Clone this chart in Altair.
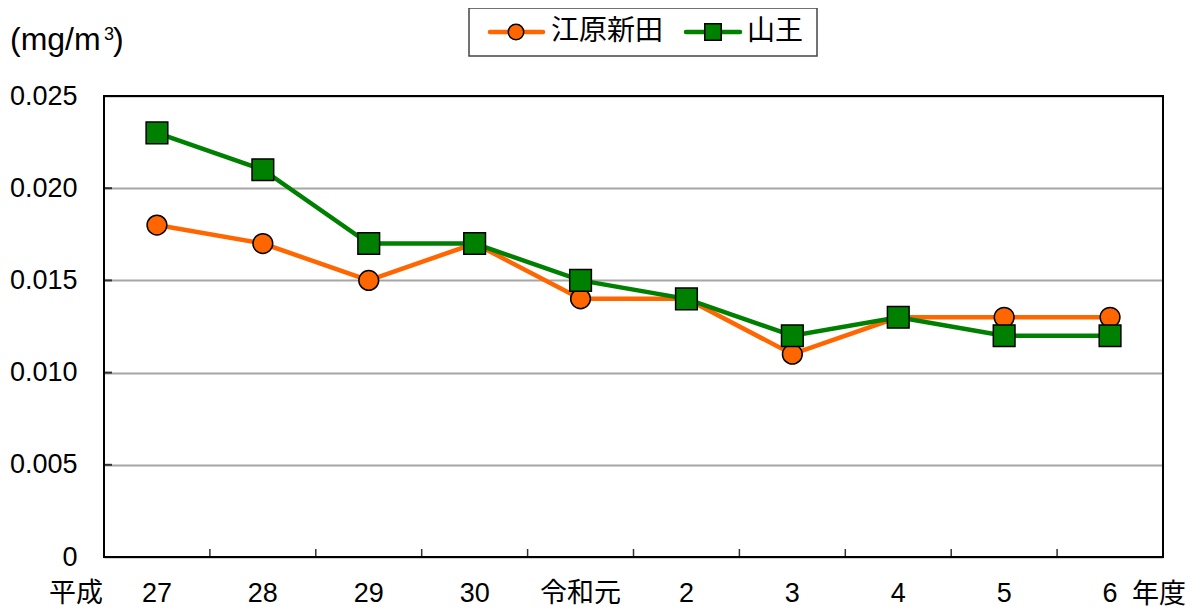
import altair as alt
import pandas as pd

years = ["27", "28", "29", "30", "令和元", "2", "3", "4", "5", "6"]
series_a_name = "江原新田"
series_b_name = "山王"
series_a = [0.018, 0.017, 0.015, 0.017, 0.014, 0.014, 0.011, 0.013, 0.013, 0.013]
series_b = [0.023, 0.021, 0.017, 0.017, 0.015, 0.014, 0.012, 0.013, 0.012, 0.012]
y_ticks = [0, 0.005, 0.010, 0.015, 0.020, 0.025]

ORANGE = "#FF6600"
GREEN = "#008000"
FONT = "Liberation Sans, Noto Sans CJK JP"
W, H = 1059, 461

df_a = pd.DataFrame({"year": years, "value": series_a})
df_b = pd.DataFrame({"year": years, "value": series_b})
df_xt = pd.DataFrame({"year": years[1:]})
df_yt = pd.DataFrame({"value": y_ticks[1:-1]})
one = pd.DataFrame({"a": [0]})

xscale = alt.Scale(domain=years, paddingInner=0, paddingOuter=0)
yscale = alt.Scale(domain=[0, 0.025], nice=False, zero=True)

xenc = alt.X("year:N", sort=years, scale=xscale,
             axis=alt.Axis(title=None, labelAngle=0, ticks=False, tickSize=0, domain=False,
                           labelPadding=36, labelBaseline="middle", labelFontSize=27,
                           labelFont=FONT, labelColor="black", grid=False))
yenc = alt.Y("value:Q", scale=yscale,
             axis=alt.Axis(title=None, values=y_ticks, ticks=False, tickSize=0, domain=False,
                           labelPadding=27, labelFontSize=27, labelFont=FONT, labelColor="black",
                           labelExpr="datum.value == 0 ? '0' : format(datum.value, '.3f')",
                           grid=True, gridColor="#a6a6a6", gridWidth=2))

base_a = alt.Chart(df_a).encode(x=xenc, y=yenc)
base_b = alt.Chart(df_b).encode(x=xenc, y=yenc)

line_a = base_a.mark_line(color=ORANGE, strokeWidth=4.5)
pts_a = base_a.mark_point(shape="circle", size=390, filled=True, color=ORANGE,
                          stroke="black", strokeWidth=1.5, opacity=1)
line_b = base_b.mark_line(color=GREEN, strokeWidth=4.5)
pts_b = base_b.mark_point(shape="square", size=470, filled=True, color=GREEN,
                          stroke="black", strokeWidth=1.5, opacity=1)

xticks = alt.Chart(df_xt).mark_rule(color="#333333", strokeWidth=1.5).encode(
    x=alt.X("year:N", sort=years, scale=xscale, bandPosition=0),
    y=alt.value(H - 8), y2=alt.value(H))
yticks = alt.Chart(df_yt).mark_rule(color="#333333", strokeWidth=2).encode(
    y=alt.Y("value:Q", scale=yscale), x=alt.value(0), x2=alt.value(8))

frame = alt.Chart(one).mark_rect(fill=None, stroke="black", strokeWidth=2).encode(
    x=alt.value(0), x2=alt.value(W), y=alt.value(0), y2=alt.value(H))

def txt(s, x, y, align="left", size=27, baseline="middle"):
    return alt.Chart(one).mark_text(text=s, align=align, baseline=baseline, fontSize=size,
                                    font=FONT, color="black").encode(
        x=alt.value(x), y=alt.value(y))

unit1 = txt("(mg/m", -94, -46, size=32, baseline="alphabetic")
unit2 = txt("3", 0, -56, size=18, baseline="alphabetic")
unit3 = txt(")", 9, -46, size=32, baseline="alphabetic")
heisei = txt("平成", -28, 498, align="center")
nendo = txt("年度", 1055, 499, align="center")

# legend
leg_box = alt.Chart(one).mark_rect(fill="white", stroke="#444444", strokeWidth=1.5).encode(
    x=alt.value(365), x2=alt.value(713), y=alt.value(-88), y2=alt.value(-40))
leg_la = alt.Chart(one).mark_rule(color=ORANGE, strokeWidth=4.5, strokeCap="round").encode(
    x=alt.value(386), x2=alt.value(439), y=alt.value(-64))
leg_pa = alt.Chart(one).mark_point(shape="circle", size=240, filled=True, color=ORANGE,
                                   stroke="black", strokeWidth=1.5, opacity=1).encode(
    x=alt.value(412), y=alt.value(-64))
leg_ta = txt(series_a_name, 447, -64, size=28)
leg_lb = alt.Chart(one).mark_rule(color=GREEN, strokeWidth=4.5, strokeCap="round").encode(
    x=alt.value(582), x2=alt.value(636), y=alt.value(-64))
leg_pb = alt.Chart(one).mark_point(shape="square", size=270, filled=True, color=GREEN,
                                   stroke="black", strokeWidth=1.5, opacity=1).encode(
    x=alt.value(609), y=alt.value(-64))
leg_tb = txt(series_b_name, 643, -64, size=28)

chart = alt.layer(
    line_a, pts_a, line_b, pts_b, xticks, yticks, frame,
    unit1, unit2, unit3, heisei, nendo,
    leg_box, leg_la, leg_pa, leg_ta, leg_lb, leg_pb, leg_tb,
).properties(
    width=W, height=H,
    autosize=alt.AutoSizeParams(type="none"),
    padding={"left": 96, "top": 88, "right": 22, "bottom": 52},
).configure_view(stroke=None).configure(background="white")

chart.save("out.html", embed_options={"renderer": "svg", "actions": False})
